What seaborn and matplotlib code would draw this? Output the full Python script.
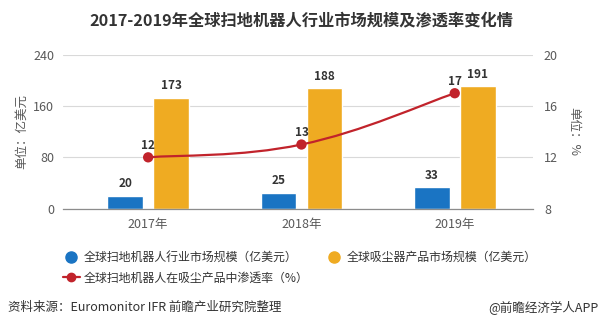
import numpy as np
import pandas as pd
import matplotlib
matplotlib.use("Agg")
import matplotlib.pyplot as plt
import seaborn as sns
from matplotlib.path import Path
from matplotlib.patches import PathPatch
from matplotlib.lines import Line2D

years = ["2017年", "2018年", "2019年"]
robot_market = [20, 25, 33]
vacuum_market = [173, 188, 191]
penetration = [12, 13, 17]
left_ticks = [0, 80, 160, 240]
right_ticks = [8, 12, 16, 20]

s1 = "全球扫地机器人行业市场规模（亿美元）"
s2 = "全球吸尘器产品市场规模（亿美元）"
s3 = "全球扫地机器人在吸尘产品中渗透率（%）"

sns.set_style("white")
plt.rcParams['font.family'] = ['Noto Sans CJK SC', 'DejaVu Sans']

BLUE = "#1a74c3"
ORANGE = "#efab22"
RED = "#c1232b"
GRAY = "#595959"
DARK = "#333333"

df = pd.DataFrame({
    "year": years * 2,
    "value": robot_market + vacuum_market,
    "series": [s1] * 3 + [s2] * 3,
})

fig = plt.figure(figsize=(6.02, 3.28), dpi=100)
ax = fig.add_axes([0.104, 0.364, 0.781, 0.469])

sns.barplot(data=df, x="year", y="value", hue="series", palette=[BLUE, ORANGE],
            width=0.6, gap=0.22, saturation=1, ax=ax, legend=False, errorbar=None)

ax.set_xlim(-0.558, 2.509)
ax.set_ylim(0, 240)
ax.set_yticks(left_ticks)
ax.set_yticklabels([str(t) for t in left_ticks])
ax.grid(axis="y", color="#d9d9d9", linewidth=0.8)
ax.set_axisbelow(True)
for side in ["top", "right", "left"]:
    ax.spines[side].set_visible(False)
ax.spines["bottom"].set_color("#8c8c8c")
ax.spines["bottom"].set_linewidth(0.9)
ax.tick_params(axis="y", length=0, labelsize=9, labelcolor=GRAY, pad=6)
ax.tick_params(axis="x", length=4, color="#8c8c8c", labelsize=9, labelcolor=GRAY, pad=3)
ax.set_xlabel("")
ax.set_ylabel("单位：亿美元", fontsize=9, color=GRAY, labelpad=4)

for cont in ax.containers:
    for rect in cont:
        h = rect.get_height()
        ax.annotate(f"{h:.0f}", (rect.get_x() + rect.get_width() / 2, h),
                    xytext=(0, 4), textcoords="offset points", ha="center", va="bottom",
                    fontsize=8.5, fontweight="bold", color=DARK)

ax2 = ax.twinx()
ax2.set_ylim(8, 20)
ax2.set_yticks(right_ticks)
ax2.set_yticklabels([str(t) for t in right_ticks])
for side in ["top", "right", "left", "bottom"]:
    ax2.spines[side].set_visible(False)
ax2.tick_params(axis="y", length=0, labelsize=9, labelcolor=GRAY, pad=8)
ax2.set_ylabel("单位：%", fontsize=9, color=GRAY, rotation=270, labelpad=16)

# smooth curve through the data points (bezier rendering)
xs = np.arange(len(years), dtype=float)
ys = np.array(penetration, dtype=float)
pts = np.column_stack([xs, ys])
t = 0.2
verts = [tuple(pts[0])]
codes = [Path.MOVETO]
n = len(pts)
for i in range(n - 1):
    p_prev = pts[max(i - 1, 0)]
    p0 = pts[i]
    p1 = pts[i + 1]
    p_next = pts[min(i + 2, n - 1)]
    c1 = p0 + t * (p1 - p_prev)
    c2 = p1 - t * (p_next - p0)
    verts += [tuple(c1), tuple(c2), tuple(p1)]
    codes += [Path.CURVE4] * 3
ax2.add_patch(PathPatch(Path(verts, codes), facecolor="none", edgecolor=RED, linewidth=1.6, zorder=3))

pdf = pd.DataFrame({"year": xs, "rate": penetration})
sns.scatterplot(data=pdf, x="year", y="rate", color=RED, s=55, edgecolor="none", ax=ax2, zorder=4, legend=False)
ax2.set_xlim(-0.558, 2.509)
ax2.set_xlabel("")
for x, y in zip(xs, penetration):
    ax2.annotate(f"{y}", (x, y), xytext=(0, 4), textcoords="offset points", ha="center", va="bottom",
                 fontsize=8.5, fontweight="bold", color=DARK)

fig.text(0.5, 1 - 20 / 328, "2017-2019年全球扫地机器人行业市场规模及渗透率变化情", ha="center", va="center",
         fontsize=11.7, fontweight="bold", color=DARK)

handles = [
    Line2D([], [], marker="o", linestyle="none", markersize=8, color=BLUE),
    Line2D([], [], marker="o", linestyle="-", linewidth=1.6, markersize=6, color=RED),
    Line2D([], [], marker="o", linestyle="none", markersize=8, color=ORANGE),
]
leg = fig.legend(handles, [s1, s3, s2], ncol=2, loc="upper left", bbox_to_anchor=(63 / 602, 1 - 251 / 328),
                 frameon=False, fontsize=8.6, handlelength=1.4, handletextpad=0.3,
                 columnspacing=1.5, labelspacing=0.62, borderaxespad=0, borderpad=0)
for txt in leg.get_texts():
    txt.set_color(DARK)

fig.text(0.013, 1 - 307.7 / 328, "资料来源：Euromonitor IFR 前瞻产业研究院整理", ha="left", va="center",
         fontsize=9, color=DARK)
fig.text(0.995, 1 - 307.7 / 328, "@前瞻经济学人APP", ha="right", va="center", fontsize=9, color=DARK)

fig.savefig("out.png", dpi=100)
